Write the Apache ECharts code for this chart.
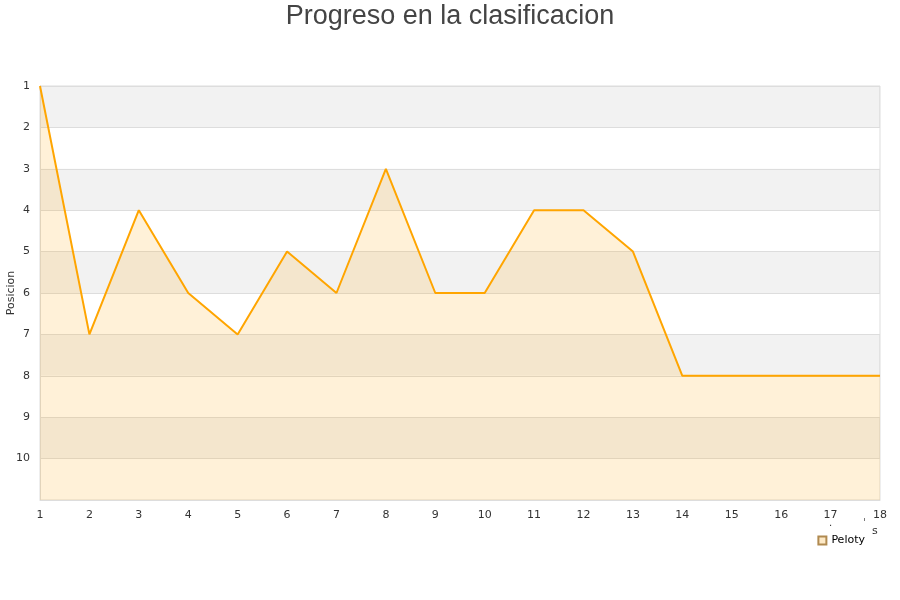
<!DOCTYPE html>
<html><head><meta charset="utf-8">
<script src="https://cdn.jsdelivr.net/npm/echarts@6/dist/echarts.min.js"></script>
<style>html,body{margin:0;padding:0;background:#fff}#c{width:900px;height:600px}</style>
</head><body><div id="c"></div>
<script>
const jornadas = [1,2,3,4,5,6,7,8,9,10,11,12,13,14,15,16,17,18];
const posiciones = [1,7,4,6,7,5,6,3,6,6,4,4,5,8,8,8,8,8];
const seriesName = 'Peloty';
const titleText = 'Progreso en la clasificacion';
const yName = 'Posicion';

const chart = echarts.init(document.getElementById('c'));
chart.setOption({
  animation: false,
  title: { text: titleText, left: 'center', top: -2,
    textStyle: { fontFamily: 'Liberation Sans, Arial', fontSize: 27, fontWeight: 'normal', color: '#444' } },
  legend: { data: [seriesName], right: 30, top: 530, itemWidth: 8, itemHeight: 8, itemGap: 6,
    icon: 'rect', textStyle: { fontFamily: 'DejaVu Sans', fontSize: 11, color: '#000' } },
  grid: { left: 40, right: 20, top: 86, bottom: 100, containLabel: false, outerBoundsMode: 'none',
    show: true, borderColor: '#ddd', borderWidth: 1, backgroundColor: 'transparent' },
  graphic: [
    { type: 'text', left: 829, top: 518, style: { text: '.', fontSize: 10, fill: '#333', fontFamily: 'DejaVu Sans' } },
    { type: 'text', left: 863, top: 518, style: { text: 'ˈ', fontSize: 10, fill: '#333', fontFamily: 'DejaVu Sans' } },
    { type: 'text', left: 872, top: 526, style: { text: 's', fontSize: 11, fill: '#333', fontFamily: 'DejaVu Sans' } }
  ],
  xAxis: { type: 'value', min: 1, max: 18, interval: 1,
    axisLine: { show: true, lineStyle: { color: '#ddd' } }, axisTick: { show: false },
    splitLine: { show: false },
    axisLabel: { fontFamily: 'DejaVu Sans', fontSize: 11, color: '#333', margin: 10 } },
  yAxis: { type: 'value', inverse: true, min: 1, max: 11, interval: 1,
    name: yName, nameLocation: 'middle', nameGap: 23, nameRotate: 90, nameMoveOverlap: false,
    nameTextStyle: { fontFamily: 'DejaVu Sans', fontSize: 11, color: '#333' },
    axisLine: { show: true, lineStyle: { color: '#ddd' } }, axisTick: { show: false },
    axisLabel: { fontFamily: 'DejaVu Sans', fontSize: 11, color: '#333', margin: 10,
      formatter: v => v > 10 ? '' : String(v), verticalAlign: 'middle' },
    splitLine: { show: true, lineStyle: { color: '#ddd' } },
    splitArea: { show: true, areaStyle: { color: ['rgba(0,0,0,0.05)', 'rgba(255,255,255,0)'] } } },
  series: [{
    name: seriesName, type: 'line',
    data: jornadas.map((j, i) => [j, posiciones[i]]),
    symbol: 'none',
    lineStyle: { color: '#ffa500', width: 2 },
    itemStyle: { color: '#fde9c6', borderColor: '#b08a50', borderWidth: 1 },
    areaStyle: { color: 'rgba(255,165,0,0.22)', origin: 'end' }
  }]
});
</script></body></html>
